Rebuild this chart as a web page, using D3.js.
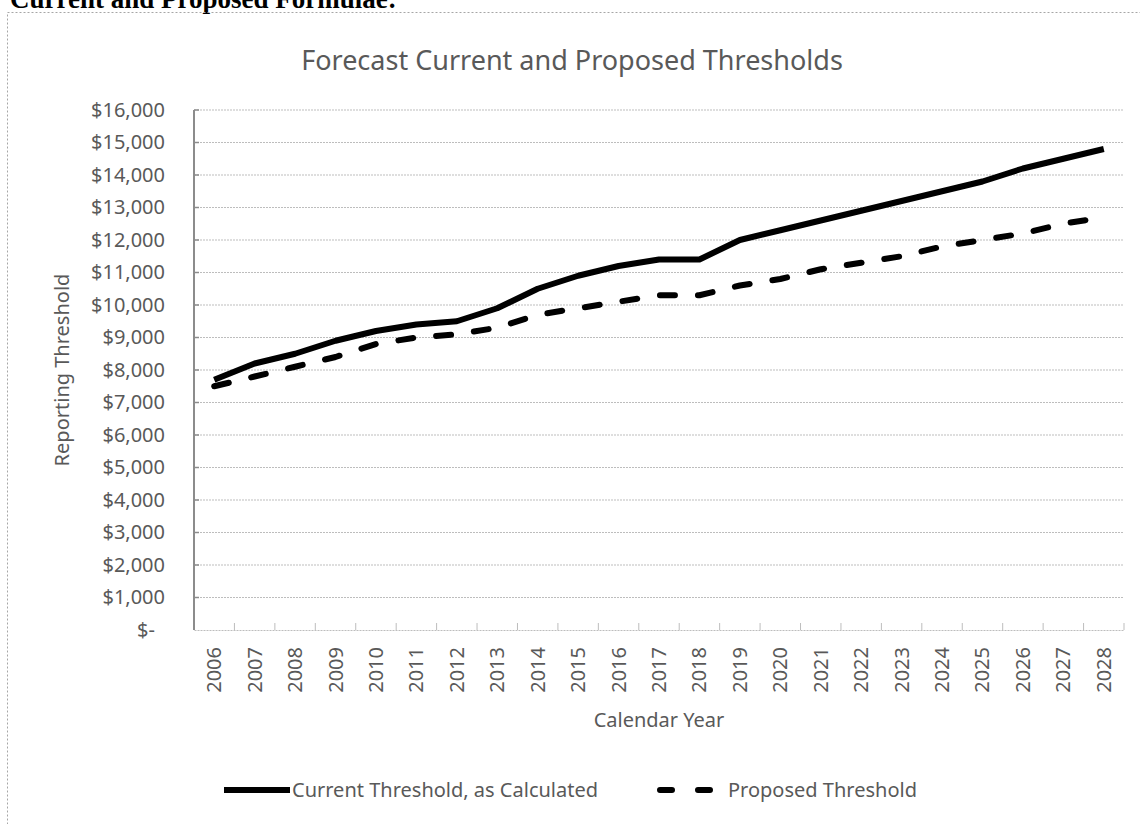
<!DOCTYPE html>
<html>
<head>
<meta charset="utf-8">
<script src="https://cdn.jsdelivr.net/npm/d3@7"></script>
<style>
  body { margin: 0; background: #fff; }
  text { font-family: "Noto Sans", sans-serif; }
</style>
</head>
<body>
<svg id="chart" width="1140" height="824"></svg>
<script>
// Data
const years = ["2006", "2007", "2008", "2009", "2010", "2011", "2012", "2013", "2014", "2015", "2016",
               "2017", "2018", "2019", "2020", "2021", "2022", "2023", "2024", "2025", "2026", "2027", "2028"];
const currentThreshold  = [7700, 8200, 8500, 8900, 9200, 9400, 9500, 9900, 10500, 10900, 11200,
                           11400, 11400, 12000, 12300, 12600, 12900, 13200, 13500, 13800, 14200, 14500, 14800];
const proposedThreshold = [7500, 7800, 8100, 8400, 8800, 9000, 9100, 9300, 9700, 9900, 10100,
                           10300, 10300, 10600, 10800, 11100, 11300, 11500, 11800, 12000, 12200, 12500, 12700];
const yTicks = [0, 1000, 2000, 3000, 4000, 5000, 6000, 7000, 8000, 9000, 10000,
                11000, 12000, 13000, 14000, 15000, 16000];

const series = [
    {name: "Current Threshold, as Calculated", values: currentThreshold, dash: null},
    {name: "Proposed Threshold", values: proposedThreshold, dash: "15,23"},
];

const margin = {top: 110, right: 16, bottom: 194, left: 194},
      width  = 1140,
      height = 824,
      innerW = width - margin.left - margin.right,
      innerH = height - margin.top - margin.bottom;

const textColor = "#595959",
      gridColor = "#bdbdbd";

const svg = d3.select("#chart");

// page heading, cut off at the top
svg.append("text")
    .attr("x", 10).attr("y", 8)
    .style("font-family", "'Liberation Serif', serif")
    .style("font-weight", "bold")
    .style("font-size", "27px")
    .text("Current and Proposed Formulae:");

// chart frame
svg.append("rect")
    .attr("x", 7.5).attr("y", 12.5)
    .attr("width", 1150).attr("height", 830)
    .attr("fill", "none")
    .attr("stroke", "#a6a6a6")
    .attr("stroke-dasharray", "2,2");

svg.append("text")
    .attr("x", 572).attr("y", 70)
    .attr("text-anchor", "middle")
    .style("font-size", "27px")
    .style("fill", textColor)
    .text("Forecast Current and Proposed Thresholds");

const xScale = d3.scaleBand().domain(years).range([0, innerW]).padding(0);
const yScale = d3.scaleLinear().domain([0, 16000]).range([innerH, 0]);
const X = (d, i) => xScale(years[i]) + xScale.bandwidth() / 2;
const Y = d => yScale(d);

const g = svg.append("g").attr("transform", `translate(${margin.left},${margin.top})`);

// gridlines
g.append("g").classed("grid", true)
  .selectAll("line")
  .data(yTicks.filter(d => d > 0))
  .join("line")
    .attr("x1", 0).attr("x2", innerW)
    .attr("y1", Y).attr("y2", Y)
    .attr("stroke", gridColor)
    .attr("stroke-width", 1)
    .attr("stroke-dasharray", "2,1");

// x axis
const xAxis = d3.axisBottom(xScale).tickSize(0).tickPadding(17);
g.append("g").classed("axis-x", true)
    .attr("transform", `translate(0,${innerH})`)
    .call(xAxis)
    .call(a => a.select(".domain").attr("stroke", gridColor).attr("stroke-dasharray", "2,1"))
    .call(a => a.selectAll("text")
        .attr("transform", "rotate(-90)")
        .attr("text-anchor", "end")
        .attr("x", -17).attr("y", 0).attr("dy", "0.35em")
        .style("font-size", "20px")
        .style("fill", textColor)
        .style("font-family", "'Noto Sans', sans-serif"));

// x tick marks at band edges, pointing up
g.append("g").classed("x-ticks", true)
  .selectAll("line")
  .data(years.concat(["end"]))
  .join("line")
    .attr("x1", (d, i) => i * xScale.bandwidth())
    .attr("x2", (d, i) => i * xScale.bandwidth())
    .attr("y1", innerH - 7).attr("y2", innerH)
    .attr("stroke", gridColor);

// y axis
const yAxis = d3.axisLeft(yScale)
    .tickValues(yTicks)
    .tickSize(0)
    .tickPadding(29)
    .tickFormat(d => d === 0 ? "$-" : d3.format("$,")(d));
g.append("g").classed("axis-y", true)
    .call(yAxis)
    .call(a => a.select(".domain").remove())
    .call(a => a.selectAll("text")
        .style("font-size", "20px")
        .style("fill", textColor)
        .style("font-family", "'Noto Sans', sans-serif"))
    .call(a => a.selectAll(".tick").filter(d => d === 0).select("text").attr("dx", "-10"));

g.append("line")
    .attr("x1", 0).attr("x2", 0)
    .attr("y1", 0).attr("y2", innerH)
    .attr("stroke", "#8c8c8c").attr("stroke-width", 2);
g.append("g")
  .selectAll("line")
  .data(yTicks.filter(d => d > 0))
  .join("line")
    .attr("x1", 0).attr("x2", 5)
    .attr("y1", Y).attr("y2", Y)
    .attr("stroke", "#8c8c8c").attr("stroke-width", 1.5);

// lines
const lineFn = d3.line().x(X).y(Y);
g.append("g").classed("data", true)
  .selectAll("path")
  .data(series)
  .join("path")
    .attr("d", d => lineFn(d.values))
    .attr("fill", "none")
    .attr("stroke", "#000")
    .attr("stroke-width", 6)
    .attr("stroke-linejoin", "round")
    .attr("stroke-linecap", d => d.dash ? "round" : "butt")
    .attr("stroke-dasharray", d => d.dash);

// axis titles
svg.append("text")
    .attr("x", margin.left + innerW / 2).attr("y", 727)
    .attr("text-anchor", "middle")
    .style("font-size", "20px").style("fill", textColor)
    .text("Calendar Year");

svg.append("text")
    .attr("transform", `translate(69,${margin.top + innerH / 2}) rotate(-90)`)
    .attr("text-anchor", "middle")
    .style("font-size", "20px").style("fill", textColor)
    .text("Reporting Threshold");

// legend
const legendPos = [{x: 224, tx: 292}, {x: 660, tx: 728}];
const legend = svg.append("g").classed("legend", true)
  .selectAll("g")
  .data(series)
  .join("g")
    .attr("transform", "translate(0,790)");
legend.append("line")
    .attr("x1", (d, i) => legendPos[i].x).attr("x2", (d, i) => legendPos[i].x + (d.dash ? 58 : 66))
    .attr("y1", 0).attr("y2", 0)
    .attr("stroke", "#000").attr("stroke-width", 6)
    .attr("stroke-linecap", d => d.dash ? "round" : "butt")
    .attr("stroke-dasharray", d => d.dash ? "12,26" : null);
legend.append("text")
    .attr("x", (d, i) => legendPos[i].tx).attr("y", 0).attr("dy", "0.35em")
    .style("font-size", "20px").style("fill", textColor)
    .text(d => d.name);
</script>
</body>
</html>
